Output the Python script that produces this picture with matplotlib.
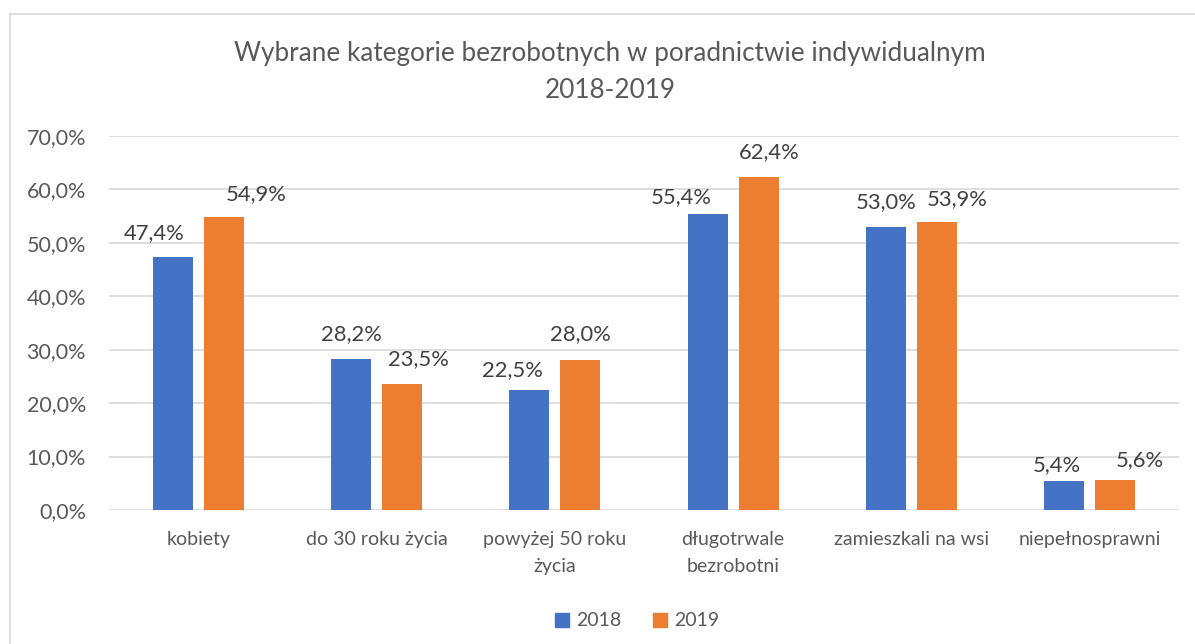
import matplotlib
matplotlib.use("Agg")
import matplotlib.pyplot as plt
import numpy as np
from matplotlib.patches import Rectangle
from matplotlib.lines import Line2D

plt.rcParams['font.family'] = ['Lato', 'DejaVu Sans']

categories = ["kobiety", "do 30 roku życia", "powyżej 50 roku\nżycia",
              "długotrwale\nbezrobotni", "zamieszkali na wsi", "niepełnosprawni"]
series_names = ["2018", "2019"]
values_2018 = [47.4, 28.2, 22.5, 55.4, 53.0, 5.4]
values_2019 = [54.9, 23.5, 28.0, 62.4, 53.9, 5.6]
yticks = [0, 10, 20, 30, 40, 50, 60, 70]

# data-label placement (pixel offsets from bar-top centre), as in the reference
label_dx_2018 = [-18, 0, -17, -26, 0, -8]
label_dx_2019 = [32, 16, 0, 11, 20, 24]
label_dy_2018 = [24, 25, 20, 17, 25, 16]
label_dy_2019 = [23, 25, 26, 25, 23, 20]

colors = ["#4472C4", "#ED7D31"]
text_color = "#595959"
grid_color = "#D9D9D9"

W, H = 1195, 644
fig = plt.figure(figsize=(W / 100, H / 100), dpi=100)

# chart border (left & top visible)
fig.add_artist(Line2D([10 / W, 10 / W], [0, 1 - 14 / H], transform=fig.transFigure,
                      color=grid_color, lw=1.2))
fig.add_artist(Line2D([10 / W, 1], [1 - 14 / H, 1 - 14 / H], transform=fig.transFigure,
                      color=grid_color, lw=1.2))

left, right = 109, 1179
top, bottom = 136, 510
ax = fig.add_axes([left / W, 1 - bottom / H, (right - left) / W, (bottom - top) / H])

x = np.arange(len(categories))
bw = 0.225
off = 0.143
b1 = ax.bar(x - off, values_2018, bw, color=colors[0], zorder=3, label=series_names[0])
b2 = ax.bar(x + off, values_2019, bw, color=colors[1], zorder=3, label=series_names[1])

px2pt = 0.72
for bars, vals, dxs, dys in ((b1, values_2018, label_dx_2018, label_dy_2018),
                             (b2, values_2019, label_dx_2019, label_dy_2019)):
    for rect, v, dx, dy in zip(bars, vals, dxs, dys):
        ax.annotate(f"{v:.1f}%".replace(".", ","),
                    (rect.get_x() + rect.get_width() / 2, v),
                    xytext=(dx * px2pt, dy * px2pt), textcoords="offset points",
                    ha="center", va="center", fontsize=15.8, color="#404040")

ax.set_xlim(-0.5, len(categories) - 0.5)
ax.set_ylim(0, 70)
ax.set_yticks(yticks)
ax.set_yticklabels([f"{t:.1f}%".replace(".", ",") for t in yticks], fontsize=15.5)
ax.set_xticks(x)
ax.set_xticklabels(categories, linespacing=1.7, fontsize=14)
ax.tick_params(axis="both", length=0, colors=text_color)
ax.tick_params(axis="x", pad=15)
ax.tick_params(axis="y", pad=16.5)
ax.grid(axis="y", color=grid_color, lw=1.2, zorder=0)
for s in ax.spines.values():
    s.set_visible(False)

fig.text(610 / W, 1 - 72 / H, "Wybrane kategorie bezrobotnych w poradnictwie indywidualnym\n2018-2019",
         ha="center", va="center", fontsize=18.8, color=text_color, linespacing=1.65)

handles = [Rectangle((0, 0), 1, 1, color=c) for c in colors]
fig.legend(handles, series_names, loc="center", bbox_to_anchor=(637 / W, 1 - 621 / H),
           ncol=2, frameon=False, fontsize=14, labelcolor=text_color,
           handlelength=0.75, handleheight=0.75, handletextpad=0.35, columnspacing=1.6)

fig.savefig("out.png", dpi=100)
